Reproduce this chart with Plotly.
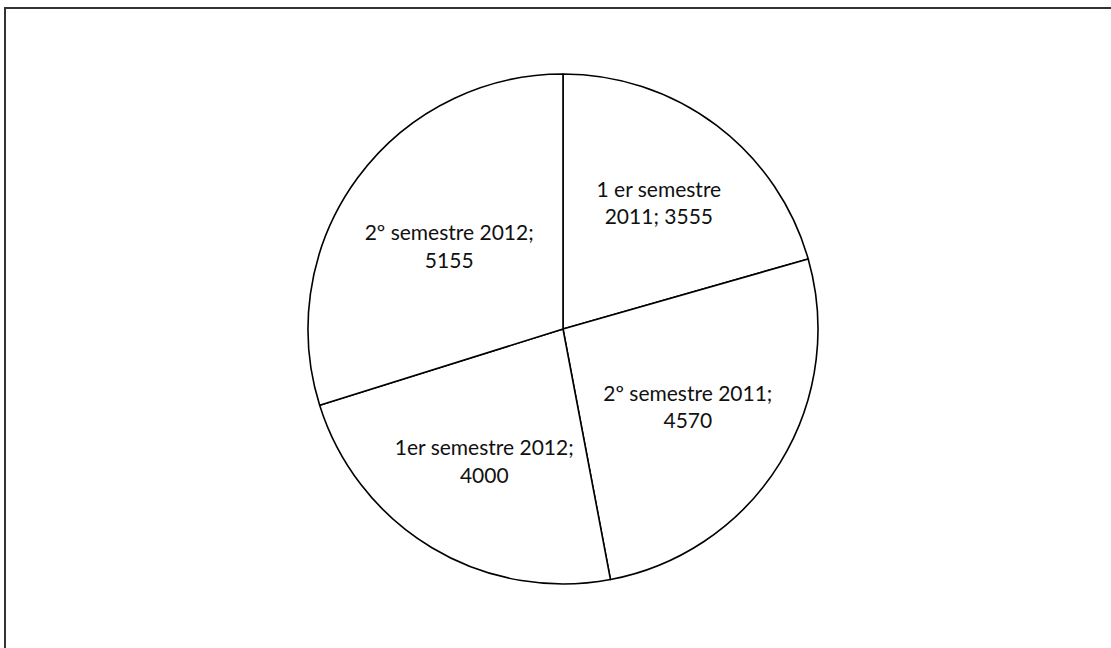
import plotly.graph_objects as go

labels = ["1 er semestre 2011", "2º semestre 2011", "1er semestre 2012", "2º semestre 2012"]
values = [3555, 4570, 4000, 5155]
display_text = [
    "1 er semestre<br>2011; 3555",
    "2º semestre 2011;<br>4570",
    "1er semestre 2012;<br>4000",
    "2º semestre 2012;<br>5155",
]

W, H = 1111, 648
cx, cy, r = 563, 329, 255

fig = go.Figure(go.Pie(
    labels=labels,
    values=values,
    text=display_text,
    textinfo="text",
    textposition="inside",
    insidetextorientation="horizontal",
    sort=False,
    direction="clockwise",
    rotation=0,
    marker=dict(colors=["white"] * 4, line=dict(color="black", width=1.6)),
    textfont=dict(family="Lato, Liberation Sans, Arial", size=21, color="#111111"),
    hoverinfo="label+value",
    showlegend=False,
    domain=dict(x=[(cx - r) / W, (cx + r) / W], y=[(H - cy - r) / H, (H - cy + r) / H]),
))

fig.update_layout(
    width=W, height=H,
    margin=dict(l=0, r=0, t=0, b=0),
    paper_bgcolor="white",
    plot_bgcolor="white",
    showlegend=False,
    shapes=[
        dict(type="line", xref="paper", yref="paper", x0=4 / W, x1=1, y0=1 - 8 / H, y1=1 - 8 / H,
             line=dict(color="#333333", width=2)),
        dict(type="line", xref="paper", yref="paper", x0=5 / W, x1=5 / W, y0=0, y1=1 - 8 / H,
             line=dict(color="#333333", width=2)),
    ],
)

fig.write_html("out.html")
